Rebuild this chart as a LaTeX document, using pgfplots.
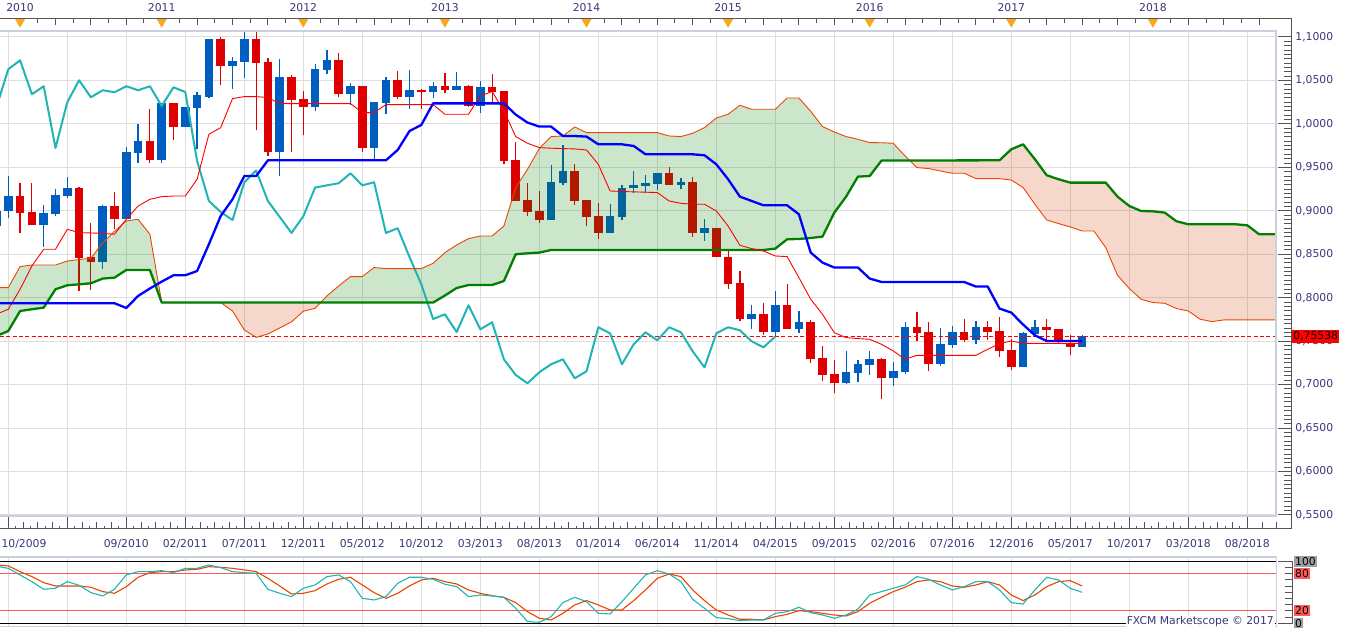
\documentclass[border=0pt]{standalone}
\usepackage{fontspec}
\setmainfont{DejaVu Sans}
\usepackage{pgfplots}
\pgfplotsset{compat=1.18}
\usetikzlibrary{decorations.markings}
\definecolor{cblue}{RGB}{0,94,192}
\definecolor{cred}{RGB}{222,0,0}
\definecolor{gridc}{RGB}{222,222,222}
\definecolor{bordc}{RGB}{200,210,222}
\definecolor{rulec}{RGB}{85,85,85}
\definecolor{txtc}{RGB}{55,55,120}
\definecolor{tenkan}{RGB}{255,0,0}
\definecolor{kijun}{RGB}{0,0,255}
\definecolor{chikou}{RGB}{32,180,180}
\definecolor{spanA}{RGB}{235,70,0}
\definecolor{spanB}{RGB}{0,128,0}
\definecolor{cloudG}{RGB}{0,130,0}
\definecolor{cloudR}{RGB}{205,55,0}
\definecolor{triang}{RGB}{248,168,32}
\definecolor{stK}{RGB}{32,180,180}
\definecolor{stD}{RGB}{230,70,0}
\definecolor{pinkl}{RGB}{255,90,90}
\definecolor{grayl}{RGB}{160,160,160}
\definecolor{pline}{RGB}{255,0,0}
\newcommand\lbl{\fontsize{10.8bp}{12bp}\selectfont}
\begin{document}
\begin{tikzpicture}
\useasboundingbox (0,0) rectangle (1349bp,628bp);

% ---------------- main price panel ----------------
\begin{axis}[at={(0bp,112.2bp)}, anchor=south west, scale only axis,
  width=1276bp, height=484.8bp,
  xmin=-0.703, xmax=107.43, ymin=0.54904, ymax=1.1069,
  axis line style={draw=none},
  xtick={0,5,...,105}, ytick={0.55,0.6,0.65,0.7,0.75,0.8,0.85,0.9,0.95,1.0,1.05,1.1},
  xticklabels={}, yticklabels={}, major tick length=0pt,
  grid=major, grid style={gridc, line width=1bp}]

% candles: wicks then bodies
\addplot[cblue, line width=1.2bp, unbounded coords=jump] coordinates {
(-1,0.8800)(-1,0.9052)(-1,nan)(0,0.8922)(0,0.9400)(0,nan)(3,0.8588)(3,0.9067)(3,nan)(4,0.8940)(4,0.9247)(4,nan)(5,0.9144)(5,0.9389)(5,nan)(8,0.8335)(8,0.9067)(8,nan)(10,0.8902)(10,0.9731)(10,nan)(11,0.9547)(11,0.9995)(11,nan)(13,0.9547)(13,1.0237)(13,nan)(15,0.9964)(15,1.0191)(15,nan)(16,0.9708)(16,1.0364)(16,nan)(17,1.0295)(17,1.0974)(17,nan)(19,1.0402)(19,1.0770)(19,nan)(20,1.0525)(20,1.1066)(20,nan)(23,0.9400)(23,1.0743)(23,nan)(26,1.0149)(26,1.0686)(26,nan)(27,1.0574)(27,1.0847)(27,nan)(29,1.0214)(29,1.0467)(29,nan)(31,0.9585)(31,1.0249)(31,nan)(32,1.0111)(32,1.0536)(32,nan)(34,1.0168)(34,1.0617)(34,nan)(36,1.0295)(36,1.0479)(36,nan)(38,1.0390)(38,1.0594)(38,nan)(40,1.0122)(40,1.0490)(40,nan)(46,0.8894)(46,0.9524)(46,nan)(47,0.9293)(47,0.9754)(47,nan)(51,0.8745)(51,0.9075)(51,nan)(52,0.8894)(52,0.9293)(52,nan)(53,0.9210)(53,0.9455)(53,nan)(54,0.9210)(54,0.9409)(54,nan)(55,0.9236)(55,0.9432)(55,nan)(57,0.9247)(57,0.9374)(57,nan)(59,0.8653)(59,0.8902)(59,nan)(63,0.7636)(63,0.7913)(63,nan)(65,0.7559)(65,0.8074)(65,nan)(67,0.7590)(67,0.7844)(67,nan)(71,0.7004)(71,0.7383)(71,nan)(72,0.7027)(72,0.7280)(72,nan)(73,0.7107)(73,0.7383)(73,nan)(75,0.6981)(75,0.7257)(75,nan)(76,0.7119)(76,0.7717)(76,nan)(79,0.7211)(79,0.7648)(79,nan)(80,0.7418)(80,0.7671)(80,nan)(82,0.7464)(82,0.7729)(82,nan)(86,0.7199)(86,0.7602)(86,nan)(87,0.7556)(87,0.7740)(87,nan)(91,0.7429)(91,0.7567)};
\addplot[cred, line width=1.2bp, unbounded coords=jump] coordinates {
(1,0.8749)(1,0.9317)(1,nan)(2,0.8833)(2,0.9320)(2,nan)(6,0.8077)(6,0.9274)(6,nan)(7,0.8089)(7,0.8856)(7,nan)(9,0.8787)(9,0.9216)(9,nan)(12,0.9547)(12,1.0176)(12,nan)(14,0.9815)(14,1.0237)(14,nan)(18,1.0448)(18,1.1005)(18,nan)(21,0.9930)(21,1.1054)(21,nan)(22,0.9631)(22,1.0755)(22,nan)(24,0.9673)(24,1.0559)(24,nan)(25,0.9869)(25,1.0375)(25,nan)(28,1.0306)(28,1.0812)(28,nan)(30,0.9677)(30,1.0433)(30,nan)(33,1.0283)(33,1.0605)(33,nan)(35,1.0168)(35,1.0398)(35,nan)(37,1.0352)(37,1.0582)(37,nan)(39,1.0199)(39,1.0452)(39,nan)(41,1.0245)(41,1.0571)(41,nan)(42,0.9539)(42,1.0375)(42,nan)(43,0.9113)(43,0.9788)(43,nan)(44,0.8940)(44,0.9317)(44,nan)(45,0.8860)(45,0.9224)(45,nan)(48,0.9067)(48,0.9535)(48,nan)(49,0.8825)(49,0.9121)(49,nan)(50,0.8676)(50,0.9086)(50,nan)(56,0.9293)(56,0.9501)(56,nan)(58,0.8699)(58,0.9389)(58,nan)(60,0.8468)(60,0.8799)(60,nan)(61,0.8100)(61,0.8538)(61,nan)(62,0.7732)(62,0.8304)(62,nan)(64,0.7567)(64,0.7936)(64,nan)(66,0.7636)(66,0.8154)(66,nan)(68,0.7245)(68,0.7740)(68,nan)(69,0.7038)(69,0.7441)(69,nan)(70,0.6900)(70,0.7280)(70,nan)(74,0.6831)(74,0.7303)(74,nan)(77,0.7498)(77,0.7832)(77,nan)(78,0.7153)(78,0.7717)(78,nan)(81,0.7487)(81,0.7752)(81,nan)(83,0.7510)(83,0.7729)(83,nan)(84,0.7314)(84,0.7775)(84,nan)(85,0.7165)(85,0.7521)(85,nan)(88,0.7510)(88,0.7752)(88,nan)(89,0.7464)(89,0.7636)(89,nan)(90,0.7337)(90,0.7567)};
\addplot[cblue, line width=8.6bp, unbounded coords=jump] coordinates {
(-1,0.8825)(-1,0.8998)(-1,nan)(0,0.8998)(0,0.9170)(0,nan)(3,0.8833)(3,0.8971)(3,nan)(4,0.8960)(4,0.9178)(4,nan)(5,0.9170)(5,0.9259)(5,nan)(8,0.8411)(8,0.9052)(8,nan)(10,0.8902)(10,0.9673)(10,nan)(11,0.9665)(11,0.9800)(11,nan)(13,0.9581)(13,1.0237)(13,nan)(15,0.9964)(15,1.0191)(15,nan)(16,1.0183)(16,1.0329)(16,nan)(17,1.0314)(17,1.0974)(17,nan)(19,1.0666)(19,1.0720)(19,nan)(20,1.0712)(20,1.0982)(20,nan)(23,0.9673)(23,1.0536)(23,nan)(26,1.0195)(26,1.0628)(26,nan)(27,1.0620)(27,1.0732)(27,nan)(29,1.0341)(29,1.0433)(29,nan)(31,0.9723)(31,1.0249)(31,nan)(32,1.0237)(32,1.0502)(32,nan)(34,1.0306)(34,1.0387)(34,nan)(36,1.0364)(36,1.0433)(36,nan)(38,1.0390)(38,1.0433)(38,nan)(40,1.0206)(40,1.0421)(40,nan)(46,0.8894)(46,0.9328)(46,nan)(47,0.9317)(47,0.9463)(47,nan)(51,0.8745)(51,0.8937)(51,nan)(52,0.8929)(52,0.9267)(52,nan)(53,0.9259)(53,0.9293)(53,nan)(54,0.9282)(54,0.9317)(54,nan)(55,0.9305)(55,0.9432)(55,nan)(57,0.9293)(57,0.9328)(57,nan)(59,0.8745)(59,0.8799)(59,nan)(63,0.7755)(63,0.7809)(63,nan)(65,0.7605)(65,0.7913)(65,nan)(67,0.7636)(67,0.7717)(67,nan)(71,0.7015)(71,0.7142)(71,nan)(72,0.7130)(72,0.7234)(72,nan)(73,0.7222)(73,0.7291)(73,nan)(75,0.7073)(75,0.7153)(75,nan)(76,0.7142)(76,0.7660)(76,nan)(79,0.7234)(79,0.7464)(79,nan)(80,0.7452)(80,0.7602)(80,nan)(82,0.7510)(82,0.7660)(82,nan)(86,0.7199)(86,0.7590)(86,nan)(87,0.7579)(87,0.7660)(87,nan)(91,0.7429)(91,0.7554)};
\addplot[cred, line width=8.6bp, unbounded coords=jump] coordinates {
(1,0.8971)(1,0.9170)(1,nan)(2,0.8833)(2,0.8986)(2,nan)(6,0.8457)(6,0.9259)(6,nan)(7,0.8411)(7,0.8468)(7,nan)(9,0.8902)(9,0.9052)(9,nan)(12,0.9581)(12,0.9800)(12,nan)(14,0.9964)(14,1.0237)(14,nan)(18,1.0666)(18,1.0974)(18,nan)(21,1.0701)(21,1.0982)(21,nan)(22,0.9673)(22,1.0709)(22,nan)(24,1.0275)(24,1.0536)(24,nan)(25,1.0195)(25,1.0283)(25,nan)(28,1.0341)(28,1.0732)(28,nan)(30,0.9723)(30,1.0433)(30,nan)(33,1.0306)(33,1.0502)(33,nan)(35,1.0364)(35,1.0395)(35,nan)(37,1.0387)(37,1.0433)(37,nan)(39,1.0206)(39,1.0433)(39,nan)(41,1.0367)(41,1.0421)(41,nan)(42,0.9573)(42,1.0375)(42,nan)(43,0.9113)(43,0.9581)(43,nan)(44,0.8986)(44,0.9121)(44,nan)(45,0.8894)(45,0.8998)(45,nan)(48,0.9113)(48,0.9463)(48,nan)(49,0.8929)(49,0.9121)(49,nan)(50,0.8745)(50,0.8937)(50,nan)(56,0.9293)(56,0.9432)(56,nan)(58,0.8745)(58,0.9328)(58,nan)(60,0.8468)(60,0.8799)(60,nan)(61,0.8154)(61,0.8468)(61,nan)(62,0.7755)(62,0.8166)(62,nan)(64,0.7605)(64,0.7809)(64,nan)(66,0.7636)(66,0.7913)(66,nan)(68,0.7291)(68,0.7717)(68,nan)(69,0.7111)(69,0.7303)(69,nan)(70,0.7015)(70,0.7119)(70,nan)(74,0.7073)(74,0.7291)(74,nan)(77,0.7590)(77,0.7660)(77,nan)(78,0.7234)(78,0.7602)(78,nan)(81,0.7510)(81,0.7602)(81,nan)(83,0.7602)(83,0.7660)(83,nan)(84,0.7383)(84,0.7613)(84,nan)(85,0.7199)(85,0.7395)(85,nan)(88,0.7625)(88,0.7660)(88,nan)(89,0.7498)(89,0.7636)(89,nan)(90,0.7429)(90,0.7475)};

% cloud (Senkou A forward, Senkou B back)
\addplot[fill=cloudG, fill opacity=0.2, draw=none] coordinates {
(-1,0.8116)(0,0.8116)(1,0.8358)(2,0.8376)(3,0.8376)(4,0.8376)(5,0.8422)(6,0.8440)(7,0.8454)(8,0.8631)(9,0.8764)(10,0.8883)(11,0.8902)(12,0.8730)(13,0.7944)
(12,0.8319)(11,0.8319)(10,0.8319)(9,0.8231)(8,0.8220)(7,0.8166)(6,0.8154)(5,0.8143)(4,0.8097)(3,0.7886)(2,0.7867)(1,0.7847)(0,0.7617)(-1,0.7560)};
\addplot[fill=cloudR, fill opacity=0.2, draw=none] coordinates {
(18,0.7944)(19,0.7848)(20,0.7629)(21,0.7544)(22,0.7582)(23,0.7652)(24,0.7721)(25,0.7844)(26,0.7878)(26.46,0.7944)};
\addplot[fill=cloudG, fill opacity=0.2, draw=none] coordinates {
(26.46,0.7944)(27,0.8020)(28,0.8135)(29,0.8243)(30,0.8243)(31,0.8347)(32,0.8335)(33,0.8335)(34,0.8335)(35,0.8335)(36,0.8396)(37,0.8519)(38,0.8607)(39,0.8680)(40,0.8710)(41,0.8710)(42,0.8825)(43,0.9267)(44,0.9478)(45,0.9716)(46,0.9854)(47,0.9861)(48,0.9964)(49,0.9900)(55,0.9900)(56,0.9861)(57,0.9854)(58,0.9892)(59,0.9957)(60,1.0068)(61,1.0111)(62,1.0214)(63,1.0168)(65,1.0168)(66,1.0298)(67,1.0298)(68,1.0145)(69,0.9969)(70,0.9907)(71,0.9854)(72,0.9823)(73,0.9785)(74,0.9783)(75,0.9777)(76,0.9631)(76.37,0.9581)
(74,0.9578)(73,0.9400)(72,0.9393)(71,0.9163)(70,0.8979)(69,0.8703)(68,0.8687)(67,0.8676)(66,0.8672)(65,0.8565)(64,0.8549)(46,0.8549)(45,0.8519)(44,0.8511)(43,0.8500)(42,0.8192)(41,0.8146)(39,0.8146)(38,0.8112)(37,0.8025)(36,0.7944)};
\addplot[fill=cloudR, fill opacity=0.2, draw=none] coordinates {
(76.37,0.9581)(77,0.9497)(78,0.9486)(79,0.9458)(80,0.9432)(81,0.9432)(82,0.9371)(83,0.9370)(84,0.9370)(85,0.9354)(86,0.9267)(87,0.9075)(88,0.8894)(89,0.8853)(90,0.8814)(91,0.8768)(92,0.8768)(93,0.8577)(94,0.8258)(95,0.8105)(96,0.7982)(97,0.7944)(98,0.7936)(99,0.7875)(100,0.7847)(101,0.7752)(102,0.7725)(103,0.7744)(108,0.7744)
(108,0.8730)(106,0.8730)(105,0.8833)(104,0.8845)(100,0.8845)(99,0.8879)(98,0.8979)(97,0.8994)(96,0.8998)(95,0.9055)(94,0.9163)(93,0.9324)(90,0.9324)(89,0.9363)(88,0.9409)(87,0.9593)(86,0.9765)(85,0.9708)(84,0.9581)};

% current price line
\addplot[draw=none, decoration={markings, mark=between positions 0 and 1 step 6.3bp with {\draw[pline, line width=1bp] (0bp,0bp) -- (4bp,0bp);}}, postaction={decorate}]
  coordinates {(-0.703,0.75538)(107.43,0.75538)};

% Chikou span
\addplot[chikou, line width=2bp, line join=round] coordinates {
(-1,1.0195)(0,1.0628)(1,1.0732)(2,1.0341)(3,1.0433)(4,0.9723)(5,1.0249)(6,1.0502)(7,1.0306)(8,1.0387)(9,1.0364)(10,1.0433)(11,1.0387)(12,1.0433)(13,1.0206)(14,1.0421)(15,1.0367)(16,0.9573)(17,0.9113)(18,0.8986)(19,0.8894)(20,0.9328)(21,0.9463)(22,0.9113)(23,0.8929)(24,0.8745)(25,0.8937)(26,0.9267)(27,0.9293)(28,0.9317)(29,0.9432)(30,0.9293)(31,0.9328)(32,0.8745)(33,0.8799)(34,0.8468)(35,0.8154)(36,0.7755)(37,0.7809)(38,0.7605)(39,0.7913)(40,0.7636)(41,0.7717)(42,0.7291)(43,0.7111)(44,0.7015)(45,0.7142)(46,0.7234)(47,0.7291)(48,0.7073)(49,0.7153)(50,0.7660)(51,0.7590)(52,0.7234)(53,0.7464)(54,0.7602)(55,0.7510)(56,0.7660)(57,0.7602)(58,0.7383)(59,0.7199)(60,0.7590)(61,0.7660)(62,0.7625)(63,0.7498)(64,0.7429)(65,0.7554)};

% Senkou A (thin) and B (thick)
\addplot[spanA, line width=0.9bp] coordinates {
(-1,0.8116)(0,0.8116)(1,0.8358)(2,0.8376)(3,0.8376)(4,0.8376)(5,0.8422)(6,0.8440)(7,0.8454)(8,0.8631)(9,0.8764)(10,0.8883)(11,0.8902)(12,0.8730)(13,0.7944)(14,0.7944)(15,0.7944)(16,0.7944)(17,0.7944)(18,0.7944)(19,0.7848)(20,0.7629)(21,0.7544)(22,0.7582)(23,0.7652)(24,0.7721)(25,0.7844)(26,0.7878)(27,0.8020)(28,0.8135)(29,0.8243)(30,0.8243)(31,0.8347)(32,0.8335)(33,0.8335)(34,0.8335)(35,0.8335)(36,0.8396)(37,0.8519)(38,0.8607)(39,0.8680)(40,0.8710)(41,0.8710)(42,0.8825)(43,0.9267)(44,0.9478)(45,0.9716)(46,0.9854)(47,0.9861)(48,0.9964)(49,0.9900)(50,0.9900)(51,0.9900)(52,0.9900)(53,0.9900)(54,0.9900)(55,0.9900)(56,0.9861)(57,0.9854)(58,0.9892)(59,0.9957)(60,1.0068)(61,1.0111)(62,1.0214)(63,1.0168)(64,1.0168)(65,1.0168)(66,1.0298)(67,1.0298)(68,1.0145)(69,0.9969)(70,0.9907)(71,0.9854)(72,0.9823)(73,0.9785)(74,0.9783)(75,0.9777)(76,0.9631)(77,0.9497)(78,0.9486)(79,0.9458)(80,0.9432)(81,0.9432)(82,0.9371)(83,0.9370)(84,0.9370)(85,0.9354)(86,0.9267)(87,0.9075)(88,0.8894)(89,0.8853)(90,0.8814)(91,0.8768)(92,0.8768)(93,0.8577)(94,0.8258)(95,0.8105)(96,0.7982)(97,0.7944)(98,0.7936)(99,0.7875)(100,0.7847)(101,0.7752)(102,0.7725)(103,0.7744)(104,0.7744)(105,0.7744)(106,0.7744)(107,0.7744)(108,0.7744)};
\addplot[spanB, line width=2.3bp, line join=round] coordinates {
(-1,0.7560)(0,0.7617)(1,0.7847)(2,0.7867)(3,0.7886)(4,0.8097)(5,0.8143)(6,0.8154)(7,0.8166)(8,0.8220)(9,0.8231)(10,0.8319)(11,0.8319)(12,0.8319)(13,0.7944)(36,0.7944)(37,0.8025)(38,0.8112)(39,0.8146)(40,0.8146)(41,0.8146)(42,0.8192)(43,0.8500)(44,0.8511)(45,0.8519)(46,0.8549)(64,0.8549)(65,0.8565)(66,0.8672)(67,0.8676)(68,0.8687)(69,0.8703)(70,0.8979)(71,0.9163)(72,0.9393)(73,0.9400)(74,0.9578)(84,0.9581)(85,0.9708)(86,0.9765)(87,0.9593)(88,0.9409)(89,0.9363)(90,0.9324)(93,0.9324)(94,0.9163)(95,0.9055)(96,0.8998)(97,0.8994)(98,0.8979)(99,0.8879)(100,0.8845)(104,0.8845)(105,0.8833)(106,0.8730)(108,0.8730)};

% Tenkan (thin red)
\addplot[tenkan, line width=0.9bp] coordinates {
(-1,0.7810)(0,0.7867)(1,0.8097)(2,0.8365)(3,0.8557)(4,0.8557)(5,0.8787)(6,0.8749)(7,0.8745)(8,0.8740)(9,0.8730)(10,0.8902)(11,0.9055)(12,0.9132)(13,0.9163)(14,0.9170)(15,0.9170)(16,0.9363)(17,0.9880)(18,0.9957)(19,1.0291)(20,1.0314)(21,1.0314)(22,1.0303)(23,1.0234)(29,1.0234)(30,1.0130)(31,1.0130)(32,1.0222)(36,1.0222)(37,1.0111)(39,1.0111)(40,1.0321)(41,1.0372)(42,1.0150)(43,0.9854)(44,0.9777)(45,0.9727)(46,0.9720)(47,0.9716)(48,0.9712)(49,0.9700)(50,0.9535)(51,0.9228)(52,0.9222)(53,0.9218)(54,0.9214)(55,0.9210)(56,0.9113)(57,0.9086)(58,0.9075)(59,0.9075)(60,0.8998)(61,0.8825)(62,0.8603)(63,0.8565)(64,0.8538)(65,0.8480)(66,0.8473)(67,0.8231)(68,0.7982)(69,0.7809)(70,0.7598)(71,0.7541)(72,0.7530)(73,0.7521)(74,0.7464)(75,0.7387)(76,0.7291)(77,0.7337)(82,0.7337)(83,0.7406)(84,0.7472)(85,0.7502)(86,0.7475)(91,0.7475)};

% Kijun (thick blue)
\addplot[kijun, line width=2.3bp, line join=round] coordinates {
(-1,0.7936)(9,0.7936)(10,0.7882)(11,0.8020)(12,0.8106)(13,0.8185)(14,0.8258)(15,0.8258)(16,0.8307)(17,0.8615)(18,0.8940)(19,0.9132)(20,0.9400)(21,0.9400)(22,0.9581)(32,0.9581)(33,0.9700)(34,0.9918)(35,0.9988)(36,1.0236)(42,1.0236)(43,1.0107)(44,1.0015)(45,0.9969)(46,0.9969)(47,0.9861)(48,0.9860)(49,0.9854)(50,0.9765)(52,0.9765)(53,0.9746)(54,0.9650)(58,0.9650)(59,0.9639)(60,0.9535)(61,0.9363)(62,0.9163)(63,0.9113)(64,0.9063)(66,0.9063)(67,0.8960)(68,0.8519)(69,0.8404)(70,0.8347)(72,0.8347)(73,0.8220)(74,0.8181)(81,0.8181)(82,0.8128)(83,0.8128)(84,0.7875)(85,0.7828)(86,0.7691)(87,0.7567)(88,0.7502)(91,0.7502)};
\end{axis}

% ---------------- stochastic panel ----------------
\begin{axis}[at={(0bp,1.5bp)}, anchor=south west, scale only axis,
  width=1276bp, height=69.8bp,
  xmin=-0.703, xmax=107.43, ymin=-5.16, ymax=107.42,
  axis line style={draw=none},
  xtick={0,5,...,105}, xticklabels={}, ytick=\empty, major tick length=0pt,
  xmajorgrids, grid style={gridc, line width=1bp}]
\addplot[black, line width=1.3bp] coordinates {(-1,100)(108,100)};
\addplot[black, line width=1.3bp] coordinates {(-1,0)(108,0)};
\addplot[pinkl, line width=1bp] coordinates {(-1,80)(108,80)};
\addplot[pinkl, line width=1bp] coordinates {(-1,20)(108,20)};
\addplot[stD, line width=1.1bp] coordinates {
(-1,94)(0,92.5)(1,83.3)(2,75.3)(3,65.6)(4,60.2)(5,60.2)(6,60.2)(7,58.1)(8,51.1)(9,48.4)(10,59.1)(11,74.2)(12,81.7)(13,83.3)(14,83.3)(15,86.0)(16,87.1)(17,91.4)(18,90.3)(19,88.7)(20,86.0)(21,83.3)(22,72.6)(23,60.2)(24,47.3)(25,48.4)(26,52.7)(27,63.4)(28,71.0)(29,74.2)(30,61.8)(31,49.5)(32,40.3)(33,48.4)(34,60.2)(35,69.9)(36,72.6)(37,67.2)(38,63.4)(39,53.8)(40,48.4)(41,44.6)(42,41.9)(43,33.3)(44,18.8)(45,8.1)(46,5.4)(47,16.1)(48,29.6)(49,36.6)(50,29.6)(51,21.5)(52,21.5)(53,36.6)(54,53.8)(55,72.6)(56,79.6)(57,75.3)(58,53.8)(59,36.6)(60,21.5)(61,13.4)(62,6.5)(63,6.5)(64,5.4)(65,10.8)(66,14.5)(67,20.4)(68,18.8)(69,16.1)(70,13.4)(71,11.8)(72,18.8)(73,32.3)(74,42.0)(75,51.1)(76,58.1)(77,67.2)(78,69.9)(79,67.2)(80,60.2)(81,58.1)(82,61.8)(83,67.2)(84,61.8)(85,45.7)(86,36.6)(87,45.7)(88,59.1)(89,67.2)(90,68.8)(91,60.2)};
\addplot[stK, line width=1.1bp] coordinates {
(-1,92)(0,88.7)(1,78.0)(2,67.2)(3,54.8)(4,56.5)(5,67.2)(6,61.3)(7,49.5)(8,44.1)(9,55.0)(10,78.0)(11,83.3)(12,83.3)(13,84.9)(14,81.7)(15,88.7)(16,88.7)(17,94.1)(18,89.8)(19,83.3)(20,81.7)(21,80.6)(22,54.8)(23,48.4)(24,43.0)(25,56.5)(26,61.8)(27,75.3)(28,78.0)(29,67.2)(30,40.3)(31,37.6)(32,43.0)(33,64.5)(34,74.2)(35,74.2)(36,71.0)(37,63.0)(38,59.1)(39,43.0)(40,45.7)(41,44.1)(42,41.9)(43,24.2)(44,2.7)(45,1.6)(46,10.8)(47,33.3)(48,41.9)(49,34.9)(50,16.1)(51,15.1)(52,34.9)(53,56.5)(54,78.0)(55,84.9)(56,79.6)(57,67.2)(58,38.7)(59,24.2)(60,9.1)(61,7.5)(62,4.3)(63,5.4)(64,5.4)(65,16.1)(66,18.8)(67,25.8)(68,17.2)(69,13.4)(70,8.1)(71,13.4)(72,22.6)(73,45.7)(74,51.1)(75,56.5)(76,61.8)(77,75.3)(78,71.0)(79,61.8)(80,53.8)(81,59.1)(82,67.2)(83,67.2)(84,53.8)(85,33.3)(86,31.2)(87,53.8)(88,74.2)(89,69.9)(90,56.5)(91,50.0)};
\end{axis}

% ---------------- right price scale ----------------
\begin{axis}[at={(0bp,99.7bp)}, anchor=south west, scale only axis,
  width=1291.7bp, height=510.7bp, clip=false,
  xmin=-0.703, xmax=108.763, ymin=0.53466, ymax=1.12232,
  axis line style={draw=none}, xtick=\empty, grid=none,
  ytick={0.55,0.6,0.65,0.7,0.75,0.8,0.85,0.9,0.95,1.0,1.05,1.1},
  yticklabels={{0,5500},{0,6000},{0,6500},{0,7000},{0,7500},{0,8000},{0,8500},{0,9000},{0,9500},{1,0000},{1,0500},{1,1000}},
  ytick pos=right, yticklabel pos=right, tick align=inside,
  major tick length=13.4bp, minor y tick num=9, minor tick length=7.4bp,
  tick style={rulec, line width=1bp},
  yticklabel style={anchor=west, inner sep=0pt, xshift=3.5bp, font=\lbl, text=txtc}]
\addplot[draw=none] coordinates {(0,0.8)(1,0.8)};
\node[anchor=west, fill=pline, text=black, inner xsep=1bp, inner ysep=2.2bp, font=\lbl, xshift=0.5bp]
  at (axis cs:108.763,0.75538) {0,75538};
\end{axis}

% ---------------- top year ruler ----------------
\begin{axis}[at={(0bp,597.3bp)}, anchor=south west, scale only axis,
  width=1291.7bp, height=12.4bp, clip=false,
  xmin=-0.703, xmax=108.763, ymin=0, ymax=1,
  axis line style={draw=none}, ytick=\empty, grid=none,
  xtick={1,4,...,106}, xticklabels={}, minor x tick num=1,
  xtick pos=right, xticklabel pos=right, tick align=inside,
  major tick length=6.7bp, minor tick length=4.3bp, tick style={rulec, line width=1bp},
  extra x ticks={1,13,25,37,49,61,73,85,97},
  extra x tick labels={2010,2011,2012,2013,2014,2015,2016,2017,2018},
  extra x tick style={grid=none, major tick length=0pt},
  xticklabel style={anchor=south, inner sep=0pt, yshift=6.3bp, font=\lbl, text=txtc}]
\addplot[only marks, mark=triangle*, mark size=6bp, mark options={rotate=180, fill=triang, draw=triang}]
  coordinates {(1,0.758)(13,0.758)(25,0.758)(37,0.758)(49,0.758)(61,0.758)(73,0.758)(85,0.758)(97,0.758)};
\end{axis}

% ---------------- bottom date ruler ----------------
\begin{axis}[at={(0bp,99bp)}, anchor=south west, scale only axis,
  width=1291.7bp, height=12.5bp,
  xmin=-0.703, xmax=108.763, ymin=0, ymax=1,
  axis line style={draw=none}, ytick=\empty, grid=none,
  xtick={0,5,...,105},
  xticklabels={{\hspace*{31.4bp}10/2009},,09/2010,02/2011,07/2011,12/2011,05/2012,10/2012,03/2013,08/2013,01/2014,06/2014,11/2014,04/2015,09/2015,02/2016,07/2016,12/2016,05/2017,10/2017,03/2018,08/2018},
  minor x tick num=7, xtick pos=left, xticklabel pos=left, tick align=inside,
  major tick length=12bp, minor tick length=3.3bp, tick style={rulec, line width=1bp},
  extra x ticks={1.25,2.5,...,107.5}, extra x tick labels={},
  extra x tick style={grid=none, major tick length=6.7bp},
  xticklabel style={anchor=north, inner sep=0pt, yshift=-9.8bp, font=\lbl, text=txtc}]
\addplot[draw=none] coordinates {(0,0.5)(1,0.5)};
\end{axis}

% ---------------- stochastic scale ----------------
\begin{axis}[at={(0bp,4.7bp)}, anchor=south west, scale only axis,
  width=1292.7bp, height=62bp,
  xmin=0, xmax=1, ymin=0, ymax=100,
  axis line style={draw=none}, xtick=\empty, grid=none,
  ytick={0,100}, yticklabels={0,100}, minor ytick={10,20,30,40,50,60,70,80,90},
  ytick pos=right, yticklabel pos=right, tick align=inside,
  major tick length=15bp, minor tick length=7.7bp, tick style={rulec, line width=1bp},
  yticklabel style={anchor=west, inner xsep=1bp, inner ysep=1.5bp, xshift=1.3bp, font=\lbl, text=black, fill=grayl},
  extra y ticks={20,80}, extra y tick labels={20,80},
  extra y tick style={grid=none, major tick length=7.7bp, yticklabel style={fill=pinkl}}]
\addplot[draw=none] coordinates {(0,50)(1,50)};
\end{axis}

% rulers and borders
\draw[rulec, line width=1bp] (0,609.7bp) -- (1291.7bp,609.7bp) -- (1291.7bp,99bp) -- (0,99bp);
\draw[rulec, line width=1bp] (1292.7bp,4.7bp) -- (1292.7bp,66.7bp);
\draw[bordc, line width=1.7bp] (0,597bp) -- (1276bp,597bp) -- (1276bp,112.2bp) -- (0,112.2bp);
\draw[bordc, line width=1.7bp] (0,71.3bp) -- (1276.5bp,71.3bp) -- (1276.5bp,1.5bp) -- (0,1.5bp);
\node[anchor=base east, inner sep=1bp, fill=white, text=txtc, font=\lbl] at (1275bp,3.2bp) {FXCM Marketscope © 2017};
\end{tikzpicture}
\end{document}
